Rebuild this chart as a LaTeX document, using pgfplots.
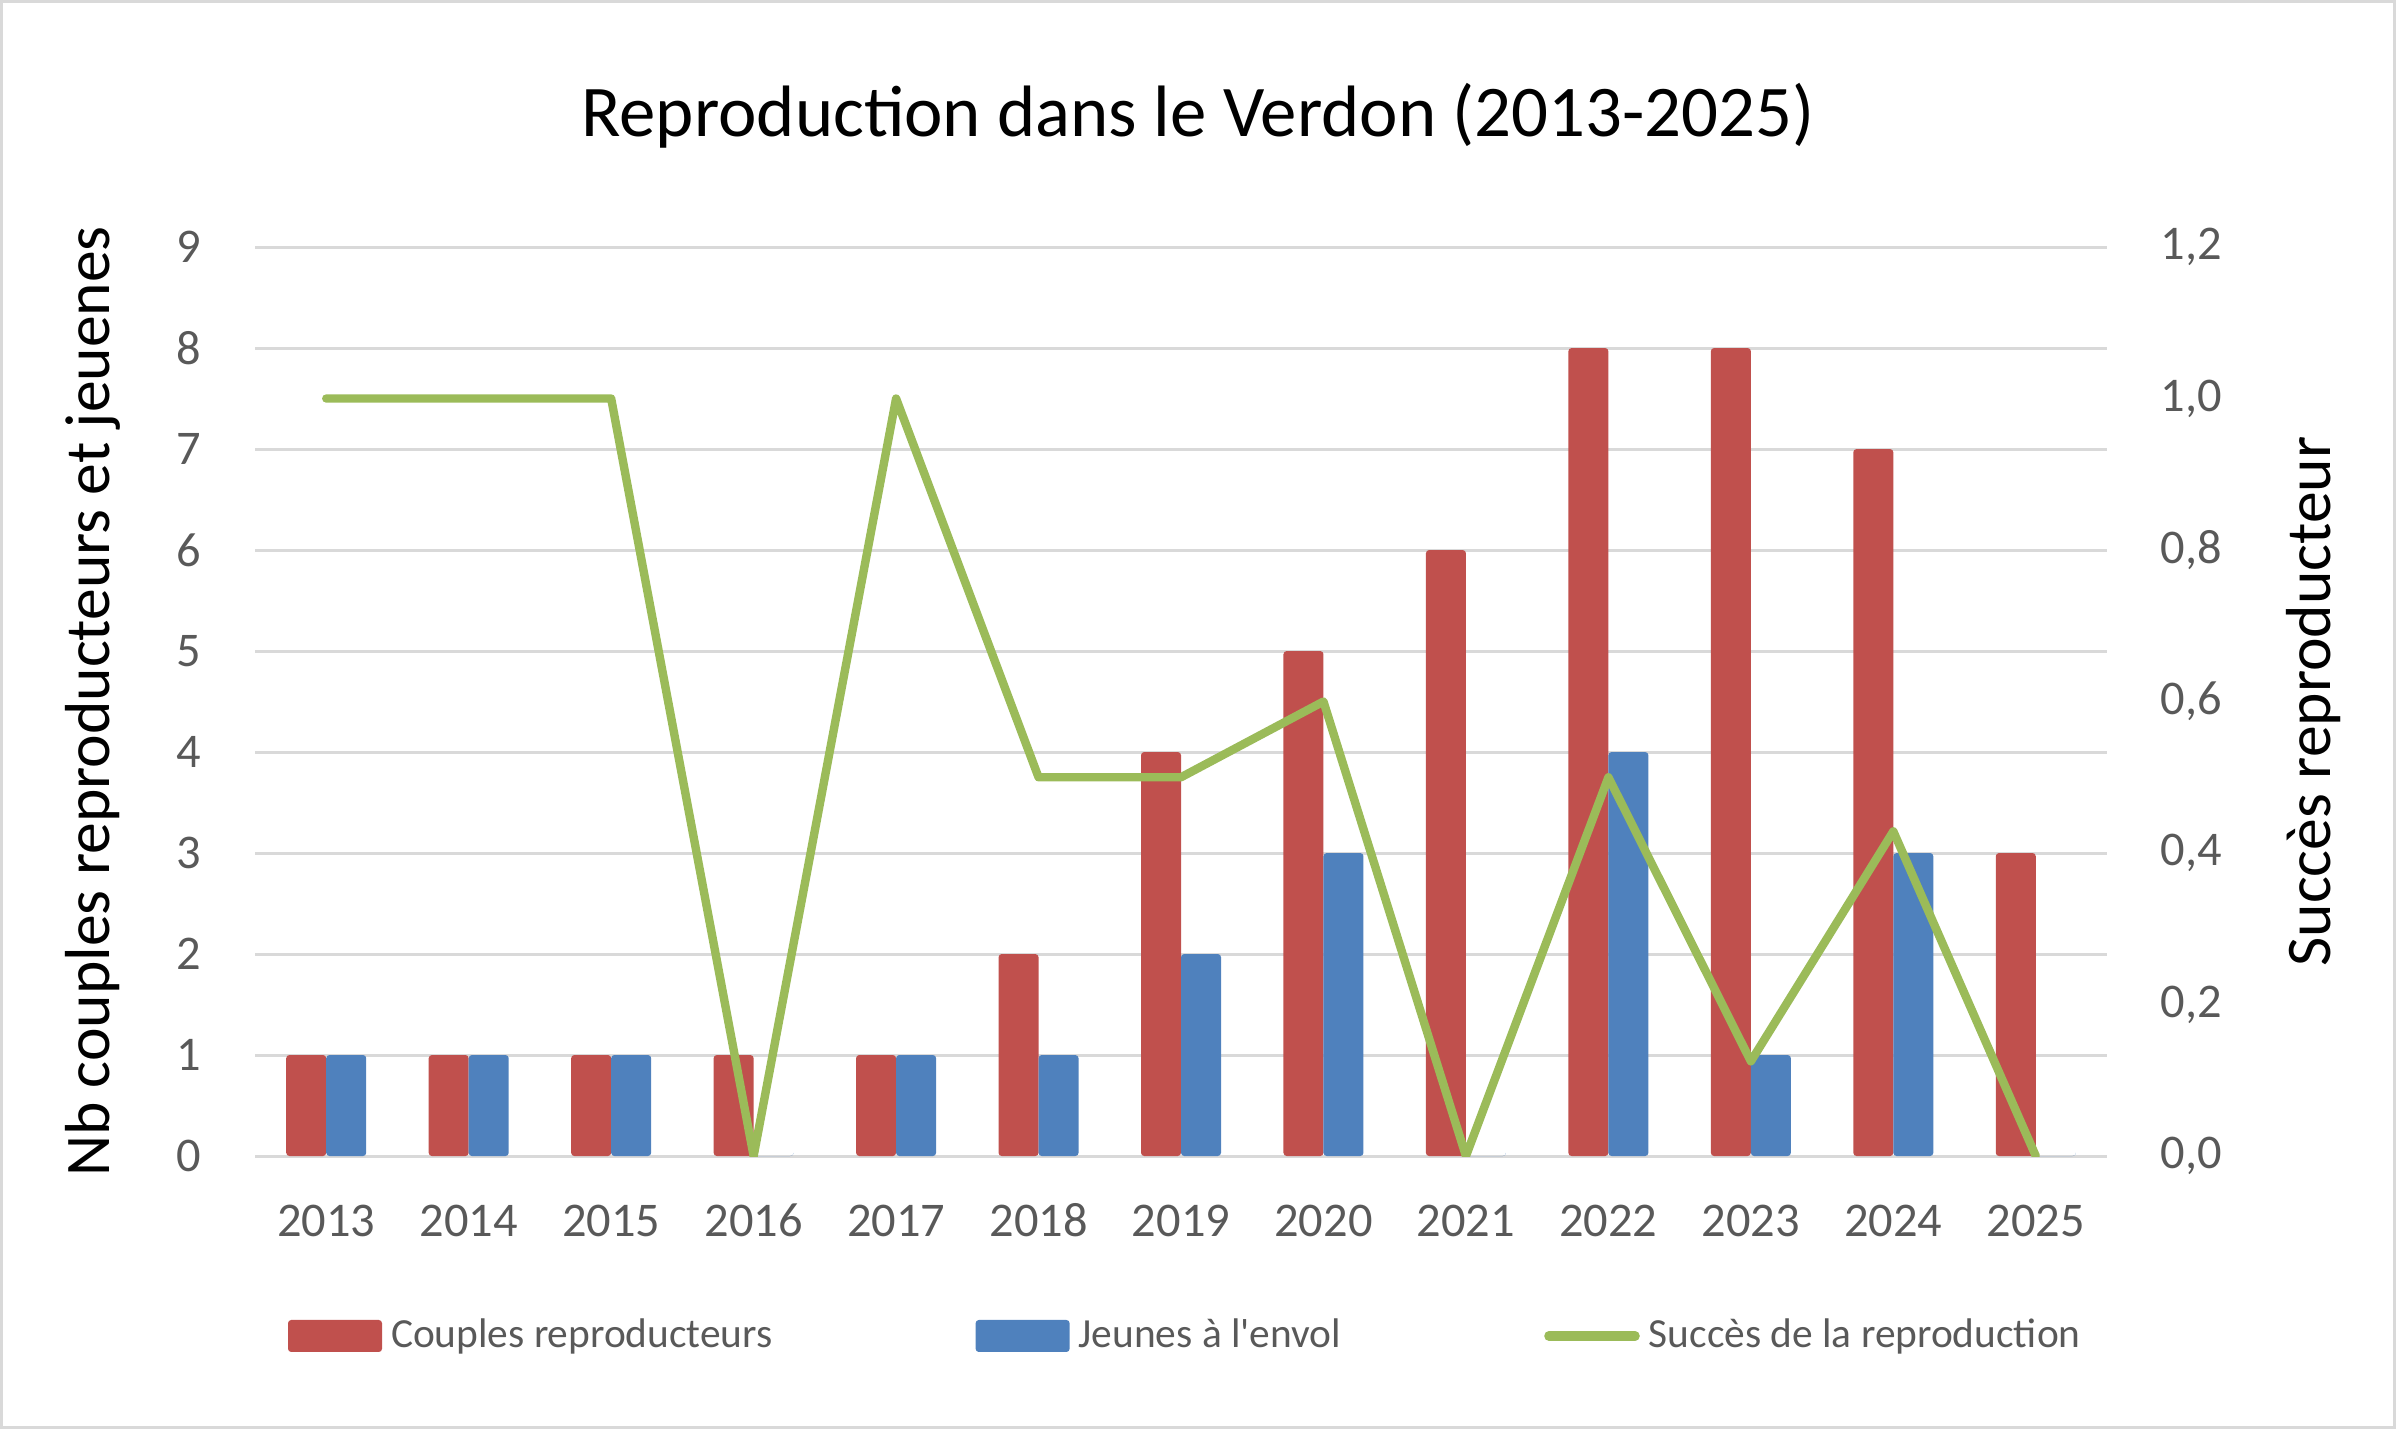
\documentclass[border=0pt]{standalone}
\usepackage{fontspec}
\setmainfont{Carlito}
\newfontfamily\nolig{Carlito}[Ligatures=ResetAll]
\usepackage{pgfplots}
\pgfplotsset{compat=1.18}
\definecolor{cred}{HTML}{C0504D}
\definecolor{cblue}{HTML}{4F81BD}
\definecolor{cgreen}{HTML}{9BBB59}
\definecolor{cgrid}{HTML}{D9D9D9}
\definecolor{ctick}{HTML}{595959}
\pgfplotsset{
  common/.style={
    at={(63.75pt,68.25pt)}, anchor=south west,
    scale only axis, width=463pt, height=227.25pt,
    xmin=-0.5, xmax=12.5,
    axis line style={draw=none},
    major tick length=0pt,
    /pgf/number format/assume math mode=true,
    ticklabel style={font=\fontsize{12.1}{14}\selectfont, text=ctick},
  },
}
\begin{document}
\begin{tikzpicture}[x=0.25pt,y=0.25pt]
\draw[cgrid, line width=0.75pt] (1.5,1.5) rectangle (2394.5,1427.5);
\begin{axis}[common,
  ymin=0, ymax=9, ytick={0,1,...,9},
  ymajorgrids, grid style={cgrid, line width=0.75pt},
  xtick={0,1,...,12},
  xticklabels={2013,2014,2015,2016,2017,2018,2019,2020,2021,2022,2023,2024,2025},
  xticklabel style={anchor=base, inner sep=0pt, yshift=-20pt},
  yticklabel style={anchor=east, inner sep=0pt, xshift=-13.25pt},
  title={Reproduction dans le Verdon (2013-2025)},
  title style={at={(axis description cs:0.5092,1.095)}, anchor=base, inner sep=0pt, font=\fontsize{18.2}{21}\selectfont},
  ylabel={Nb couples reproducteurs et jeuenes},
  ylabel style={at={(axis description cs:-0.0783,0.5)}, rotate=0, anchor=base, inner sep=0pt, font=\fontsize{15.9}{18}\selectfont},
  legend style={at={(axis description cs:0.5018,-0.198)}, anchor=center, draw=none, fill=none,
    legend columns=3, font=\fontsize{10.35}{12}\selectfont, text=ctick,
    nodes={inner sep=0pt}, column sep=2.25pt,
    /tikz/every even column/.append style={column sep=50.75pt}},
  legend image code/.code={\fill[#1, rounded corners=0.8pt] (0pt,-4pt) rectangle (23.5pt,4pt);},
]
\addplot[ybar, bar width=10pt, bar shift=-5pt, fill=cred, draw=none, rounded corners=0.8pt] coordinates {
(0,1) (1,1) (2,1) (3,1) (4,1) (5,2) (6,4) (7,5) (8,6) (9,8) (10,8) (11,7) (12,3)};
\addlegendentry{Couples reproducteurs}
\addplot[ybar, bar width=10pt, bar shift=5pt, fill=cblue, draw=none, rounded corners=0.8pt] coordinates {
(0,1) (1,1) (2,1) (3,0) (4,1) (5,1) (6,2) (7,3) (8,0) (9,4) (10,1) (11,3) (12,0)};
\addlegendentry{Jeunes à l{\nolig '}envol}
\addlegendimage{legend image code/.code={\draw[cgreen, line width=2.3pt, line cap=round] (1.2pt,0pt) -- (22.8pt,0pt);}}
\addlegendentry{Succès de la reproduction}
\end{axis}
\begin{axis}[common,
  ymin=0, ymax=1.2, ytick={0,0.2,...,1.2},
  axis x line=none,
  axis y line*=right,
  xtick=\empty,
  yticklabel style={anchor=west, inner sep=0pt, xshift=13.25pt,
    /pgf/number format/.cd, use comma, fixed, fixed zerofill, precision=1},
  ylabel={Succès reproducteur},
  ylabel style={at={(axis description cs:1.1204,0.5)}, rotate=0, anchor=base, inner sep=0pt, font=\fontsize{15.9}{18}\selectfont},
]
\addplot[cgreen, line width=2.1pt, line cap=round, line join=round, mark=none] coordinates {
(0,1.0) (1,1.0) (2,1.0) (3,0) (4,1.0) (5,0.5) (6,0.5) (7,0.6) (8,0) (9,0.5) (10,0.125) (11,0.4286) (12,0)};
\end{axis}
\end{tikzpicture}
\end{document}
